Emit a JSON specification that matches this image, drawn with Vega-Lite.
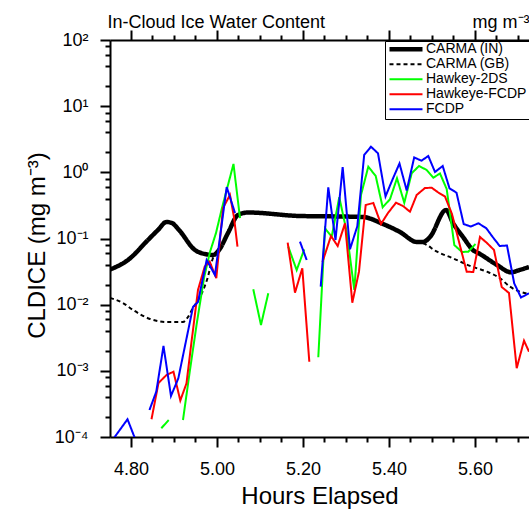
{
  "$schema": "https://vega.github.io/schema/vega-lite/v6.json",
  "width": 419,
  "height": 397,
  "autosize": {"type": "none"},
  "padding": {"left": 110, "top": 40, "right": 0, "bottom": 75},
  "background": "white",
  "config": {
    "view": {"stroke": null},
    "font": "Liberation Sans",
    "axis": {"grid": false, "labelFont": "Liberation Sans", "titleFont": "Liberation Sans", "labelColor": "black", "titleColor": "black", "tickColor": "black", "domainColor": "black", "titleFontWeight": "normal"}
  },
  "datasets": {
    "carma": [
      {"s": "CARMA (IN)", "g": 1, "t": 4.7512, "v": 0.034},
      {"s": "CARMA (IN)", "g": 1, "t": 4.793, "v": 0.0473},
      {"s": "CARMA (IN)", "g": 1, "t": 4.8395, "v": 0.095},
      {"s": "CARMA (IN)", "g": 1, "t": 4.8628, "v": 0.1346},
      {"s": "CARMA (IN)", "g": 1, "t": 4.8826, "v": 0.1778},
      {"s": "CARMA (IN)", "g": 1, "t": 4.8953, "v": 0.1714},
      {"s": "CARMA (IN)", "g": 1, "t": 4.9116, "v": 0.1346},
      {"s": "CARMA (IN)", "g": 1, "t": 4.9488, "v": 0.067},
      {"s": "CARMA (IN)", "g": 1, "t": 4.9721, "v": 0.0583},
      {"s": "CARMA (IN)", "g": 1, "t": 4.9907, "v": 0.0563},
      {"s": "CARMA (IN)", "g": 1, "t": 5.0047, "v": 0.067},
      {"s": "CARMA (IN)", "g": 1, "t": 5.0256, "v": 0.1211},
      {"s": "CARMA (IN)", "g": 1, "t": 5.0488, "v": 0.2265},
      {"s": "CARMA (IN)", "g": 1, "t": 5.0721, "v": 0.2472},
      {"s": "CARMA (IN)", "g": 1, "t": 5.193, "v": 0.2188},
      {"s": "CARMA (IN)", "g": 1, "t": 5.286, "v": 0.2152},
      {"s": "CARMA (IN)", "g": 1, "t": 5.3395, "v": 0.2113},
      {"s": "CARMA (IN)", "g": 1, "t": 5.386, "v": 0.1656},
      {"s": "CARMA (IN)", "g": 1, "t": 5.4256, "v": 0.1254},
      {"s": "CARMA (IN)", "g": 1, "t": 5.4651, "v": 0.0885},
      {"s": "CARMA (IN)", "g": 1, "t": 5.4791, "v": 0.0885},
      {"s": "CARMA (IN)", "g": 1, "t": 5.4953, "v": 0.1054},
      {"s": "CARMA (IN)", "g": 1, "t": 5.5326, "v": 0.2698},
      {"s": "CARMA (IN)", "g": 1, "t": 5.5488, "v": 0.1714},
      {"s": "CARMA (IN)", "g": 1, "t": 5.5721, "v": 0.1054},
      {"s": "CARMA (IN)", "g": 1, "t": 5.5953, "v": 0.067},
      {"s": "CARMA (IN)", "g": 1, "t": 5.6116, "v": 0.0583},
      {"s": "CARMA (IN)", "g": 1, "t": 5.6512, "v": 0.0398},
      {"s": "CARMA (IN)", "g": 1, "t": 5.6837, "v": 0.0309},
      {"s": "CARMA (IN)", "g": 1, "t": 5.7047, "v": 0.0336},
      {"s": "CARMA (IN)", "g": 1, "t": 5.7256, "v": 0.0371},
      {"s": "CARMA (GB)", "g": 2, "t": 4.7512, "v": 0.01262},
      {"s": "CARMA (GB)", "g": 2, "t": 4.7814, "v": 0.01059},
      {"s": "CARMA (GB)", "g": 2, "t": 4.8047, "v": 0.00832},
      {"s": "CARMA (GB)", "g": 2, "t": 4.8442, "v": 0.00608},
      {"s": "CARMA (GB)", "g": 2, "t": 4.8837, "v": 0.00547},
      {"s": "CARMA (GB)", "g": 2, "t": 4.9209, "v": 0.00547},
      {"s": "CARMA (GB)", "g": 2, "t": 4.9326, "v": 0.00652},
      {"s": "CARMA (GB)", "g": 2, "t": 4.9442, "v": 0.00891},
      {"s": "CARMA (GB)", "g": 2, "t": 4.9605, "v": 0.01306},
      {"s": "CARMA (GB)", "g": 2, "t": 4.9767, "v": 0.0236},
      {"s": "CARMA (GB)", "g": 2, "t": 4.9907, "v": 0.0507},
      {"s": "CARMA (GB)", "g": 2, "t": 5.0047, "v": 0.067},
      {"s": "CARMA (GB)", "g": 2, "t": 5.0256, "v": 0.1211},
      {"s": "CARMA (GB)", "g": 2, "t": 5.0488, "v": 0.2265},
      {"s": "CARMA (GB)", "g": 2, "t": 5.0721, "v": 0.2472},
      {"s": "CARMA (GB)", "g": 2, "t": 5.193, "v": 0.2188},
      {"s": "CARMA (GB)", "g": 2, "t": 5.286, "v": 0.2152},
      {"s": "CARMA (GB)", "g": 2, "t": 5.3395, "v": 0.2113},
      {"s": "CARMA (GB)", "g": 2, "t": 5.386, "v": 0.1656},
      {"s": "CARMA (GB)", "g": 2, "t": 5.4256, "v": 0.1254},
      {"s": "CARMA (GB)", "g": 2, "t": 5.4651, "v": 0.0885},
      {"s": "CARMA (GB)", "g": 2, "t": 5.4791, "v": 0.085},
      {"s": "CARMA (GB)", "g": 2, "t": 5.5116, "v": 0.0632},
      {"s": "CARMA (GB)", "g": 2, "t": 5.5488, "v": 0.0502},
      {"s": "CARMA (GB)", "g": 2, "t": 5.5884, "v": 0.0385},
      {"s": "CARMA (GB)", "g": 2, "t": 5.6279, "v": 0.0315},
      {"s": "CARMA (GB)", "g": 2, "t": 5.6581, "v": 0.0251},
      {"s": "CARMA (GB)", "g": 2, "t": 5.6814, "v": 0.0187},
      {"s": "CARMA (GB)", "g": 2, "t": 5.7047, "v": 0.0157},
      {"s": "CARMA (GB)", "g": 2, "t": 5.7256, "v": 0.0145}
    ],
    "obs": [
      {"s": "Hawkey-2DS", "g": 11, "t": 4.8705, "v": 0.0001355},
      {"s": "Hawkey-2DS", "g": 11, "t": 4.8877, "v": 0.0001807},
      {"s": "Hawkey-2DS", "g": 12, "t": 4.9209, "v": 0.0001807},
      {"s": "Hawkey-2DS", "g": 12, "t": 4.9372, "v": 0.00103},
      {"s": "Hawkey-2DS", "g": 12, "t": 4.9535, "v": 0.00547},
      {"s": "Hawkey-2DS", "g": 12, "t": 4.9698, "v": 0.0253},
      {"s": "Hawkey-2DS", "g": 12, "t": 4.9837, "v": 0.0625},
      {"s": "Hawkey-2DS", "g": 12, "t": 4.9977, "v": 0.1211},
      {"s": "Hawkey-2DS", "g": 12, "t": 5.0116, "v": 0.289},
      {"s": "Hawkey-2DS", "g": 12, "t": 5.0256, "v": 0.644},
      {"s": "Hawkey-2DS", "g": 12, "t": 5.0384, "v": 1.337},
      {"s": "Hawkey-2DS", "g": 12, "t": 5.0535, "v": 0.204},
      {"s": "Hawkey-2DS", "g": 13, "t": 5.0844, "v": 0.01707},
      {"s": "Hawkey-2DS", "g": 13, "t": 5.1023, "v": 0.00493},
      {"s": "Hawkey-2DS", "g": 13, "t": 5.1193, "v": 0.01486},
      {"s": "Hawkey-2DS", "g": 14, "t": 5.1658, "v": 0.0752},
      {"s": "Hawkey-2DS", "g": 14, "t": 5.1853, "v": 0.0334},
      {"s": "Hawkey-2DS", "g": 14, "t": 5.203, "v": 0.0687},
      {"s": "Hawkey-2DS", "g": 15, "t": 5.2356, "v": 0.001603},
      {"s": "Hawkey-2DS", "g": 15, "t": 5.2512, "v": 0.1426},
      {"s": "Hawkey-2DS", "g": 15, "t": 5.2667, "v": 0.1064},
      {"s": "Hawkey-2DS", "g": 15, "t": 5.2844, "v": 0.4198},
      {"s": "Hawkey-2DS", "g": 15, "t": 5.3016, "v": 0.1268},
      {"s": "Hawkey-2DS", "g": 15, "t": 5.3193, "v": 0.01667},
      {"s": "Hawkey-2DS", "g": 15, "t": 5.3349, "v": 0.455},
      {"s": "Hawkey-2DS", "g": 15, "t": 5.3519, "v": 1.217},
      {"s": "Hawkey-2DS", "g": 15, "t": 5.3691, "v": 0.881},
      {"s": "Hawkey-2DS", "g": 15, "t": 5.3853, "v": 0.2963},
      {"s": "Hawkey-2DS", "g": 15, "t": 5.4023, "v": 0.3917},
      {"s": "Hawkey-2DS", "g": 15, "t": 5.4186, "v": 0.8128},
      {"s": "Hawkey-2DS", "g": 15, "t": 5.4356, "v": 0.3475},
      {"s": "Hawkey-2DS", "g": 15, "t": 5.4528, "v": 0.968},
      {"s": "Hawkey-2DS", "g": 15, "t": 5.4698, "v": 1.247},
      {"s": "Hawkey-2DS", "g": 15, "t": 5.4877, "v": 1.084},
      {"s": "Hawkey-2DS", "g": 15, "t": 5.503, "v": 0.83},
      {"s": "Hawkey-2DS", "g": 15, "t": 5.5186, "v": 0.96},
      {"s": "Hawkey-2DS", "g": 15, "t": 5.5342, "v": 0.56},
      {"s": "Hawkey-2DS", "g": 15, "t": 5.5519, "v": 0.0798},
      {"s": "Hawkey-2DS", "g": 15, "t": 5.5698, "v": 0.0625},
      {"s": "Hawkey-2DS", "g": 15, "t": 5.5844, "v": 0.0632},
      {"s": "Hawkey-2DS", "g": 15, "t": 5.6012, "v": 0.0826},
      {"s": "Hawkeye-FCDP", "g": 21, "t": 4.8477, "v": 0.0001854},
      {"s": "Hawkeye-FCDP", "g": 21, "t": 4.864, "v": 0.000655},
      {"s": "Hawkeye-FCDP", "g": 21, "t": 4.8826, "v": 0.000865},
      {"s": "Hawkeye-FCDP", "g": 21, "t": 4.8988, "v": 0.00097},
      {"s": "Hawkeye-FCDP", "g": 21, "t": 4.9147, "v": 0.000356},
      {"s": "Hawkeye-FCDP", "g": 21, "t": 4.9291, "v": 0.000648},
      {"s": "Hawkeye-FCDP", "g": 21, "t": 4.9407, "v": 0.00273},
      {"s": "Hawkeye-FCDP", "g": 21, "t": 4.9558, "v": 0.01667},
      {"s": "Hawkeye-FCDP", "g": 21, "t": 4.9714, "v": 0.0375},
      {"s": "Hawkeye-FCDP", "g": 21, "t": 4.983, "v": 0.0447},
      {"s": "Hawkeye-FCDP", "g": 21, "t": 4.9984, "v": 0.0251},
      {"s": "Hawkeye-FCDP", "g": 21, "t": 5.014, "v": 0.289},
      {"s": "Hawkeye-FCDP", "g": 21, "t": 5.0302, "v": 0.455},
      {"s": "Hawkeye-FCDP", "g": 21, "t": 5.0395, "v": 0.2113},
      {"s": "Hawkeye-FCDP", "g": 21, "t": 5.0477, "v": 0.0752},
      {"s": "Hawkeye-FCDP", "g": 22, "t": 5.1644, "v": 0.0865},
      {"s": "Hawkeye-FCDP", "g": 22, "t": 5.1814, "v": 0.01517},
      {"s": "Hawkeye-FCDP", "g": 22, "t": 5.1984, "v": 0.0355},
      {"s": "Hawkeye-FCDP", "g": 22, "t": 5.2147, "v": 0.001374},
      {"s": "Hawkeye-FCDP", "g": 23, "t": 5.2453, "v": 0.0442},
      {"s": "Hawkeye-FCDP", "g": 23, "t": 5.2651, "v": 0.1091},
      {"s": "Hawkeye-FCDP", "g": 23, "t": 5.2807, "v": 0.0771},
      {"s": "Hawkeye-FCDP", "g": 23, "t": 5.2977, "v": 0.1698},
      {"s": "Hawkeye-FCDP", "g": 23, "t": 5.3147, "v": 0.01072},
      {"s": "Hawkeye-FCDP", "g": 23, "t": 5.3302, "v": 0.0315},
      {"s": "Hawkeye-FCDP", "g": 23, "t": 5.3458, "v": 0.3208},
      {"s": "Hawkeye-FCDP", "g": 23, "t": 5.3635, "v": 0.3443},
      {"s": "Hawkeye-FCDP", "g": 23, "t": 5.3814, "v": 0.1656},
      {"s": "Hawkeye-FCDP", "g": 23, "t": 5.3977, "v": 0.243},
      {"s": "Hawkeye-FCDP", "g": 23, "t": 5.4163, "v": 0.3475},
      {"s": "Hawkeye-FCDP", "g": 23, "t": 5.4326, "v": 0.3097},
      {"s": "Hawkeye-FCDP", "g": 23, "t": 5.4488, "v": 0.2541},
      {"s": "Hawkeye-FCDP", "g": 23, "t": 5.4644, "v": 0.455},
      {"s": "Hawkeye-FCDP", "g": 23, "t": 5.4837, "v": 0.5794},
      {"s": "Hawkeye-FCDP", "g": 23, "t": 5.4993, "v": 0.585},
      {"s": "Hawkeye-FCDP", "g": 23, "t": 5.5147, "v": 0.4955},
      {"s": "Hawkeye-FCDP", "g": 23, "t": 5.5302, "v": 0.4315},
      {"s": "Hawkeye-FCDP", "g": 23, "t": 5.5465, "v": 0.2345},
      {"s": "Hawkeye-FCDP", "g": 23, "t": 5.5635, "v": 0.0855},
      {"s": "Hawkeye-FCDP", "g": 23, "t": 5.5807, "v": 0.0315},
      {"s": "Hawkeye-FCDP", "g": 23, "t": 5.596, "v": 0.0312},
      {"s": "Hawkeye-FCDP", "g": 23, "t": 5.6116, "v": 0.1054},
      {"s": "Hawkeye-FCDP", "g": 23, "t": 5.6279, "v": 0.0855},
      {"s": "Hawkeye-FCDP", "g": 23, "t": 5.6442, "v": 0.067},
      {"s": "Hawkeye-FCDP", "g": 23, "t": 5.6621, "v": 0.0185},
      {"s": "Hawkeye-FCDP", "g": 23, "t": 5.6791, "v": 0.015},
      {"s": "Hawkeye-FCDP", "g": 23, "t": 5.697, "v": 0.001094},
      {"s": "Hawkeye-FCDP", "g": 23, "t": 5.714, "v": 0.002857},
      {"s": "Hawkeye-FCDP", "g": 23, "t": 5.7256, "v": 0.001946},
      {"s": "FCDP", "g": 31, "t": 4.7581, "v": 0.000092},
      {"s": "FCDP", "g": 31, "t": 4.7919, "v": 0.0001854},
      {"s": "FCDP", "g": 31, "t": 4.8093, "v": 0.000095},
      {"s": "FCDP", "g": 32, "t": 4.843, "v": 0.000256},
      {"s": "FCDP", "g": 32, "t": 4.8588, "v": 0.000484},
      {"s": "FCDP", "g": 32, "t": 4.8756, "v": 0.002377},
      {"s": "FCDP", "g": 32, "t": 4.893, "v": 0.000417},
      {"s": "FCDP", "g": 32, "t": 4.91, "v": 0.000766},
      {"s": "FCDP", "g": 32, "t": 4.9442, "v": 0.00923},
      {"s": "FCDP", "g": 32, "t": 4.9558, "v": 0.01099},
      {"s": "FCDP", "g": 32, "t": 4.976, "v": 0.0473},
      {"s": "FCDP", "g": 32, "t": 4.9953, "v": 0.0281},
      {"s": "FCDP", "g": 32, "t": 5.0226, "v": 0.6},
      {"s": "FCDP", "g": 32, "t": 5.0419, "v": 0.243},
      {"s": "FCDP", "g": 33, "t": 5.193, "v": 0.0895},
      {"s": "FCDP", "g": 33, "t": 5.2086, "v": 0.0473},
      {"s": "FCDP", "g": 34, "t": 5.2412, "v": 0.0187},
      {"s": "FCDP", "g": 34, "t": 5.2588, "v": 0.594},
      {"s": "FCDP", "g": 34, "t": 5.2756, "v": 0.0949},
      {"s": "FCDP", "g": 34, "t": 5.2923, "v": 1.205},
      {"s": "FCDP", "g": 34, "t": 5.3093, "v": 0.0687},
      {"s": "FCDP", "g": 34, "t": 5.3263, "v": 0.1528},
      {"s": "FCDP", "g": 34, "t": 5.3423, "v": 1.828},
      {"s": "FCDP", "g": 34, "t": 5.3581, "v": 2.44},
      {"s": "FCDP", "g": 34, "t": 5.3744, "v": 1.94},
      {"s": "FCDP", "g": 34, "t": 5.3919, "v": 0.4315},
      {"s": "FCDP", "g": 34, "t": 5.4077, "v": 0.7656},
      {"s": "FCDP", "g": 34, "t": 5.4244, "v": 1.361},
      {"s": "FCDP", "g": 34, "t": 5.4412, "v": 0.532},
      {"s": "FCDP", "g": 34, "t": 5.4586, "v": 1.675},
      {"s": "FCDP", "g": 34, "t": 5.4756, "v": 1.5},
      {"s": "FCDP", "g": 34, "t": 5.4914, "v": 1.766},
      {"s": "FCDP", "g": 34, "t": 5.507, "v": 1.012},
      {"s": "FCDP", "g": 34, "t": 5.5249, "v": 1.247},
      {"s": "FCDP", "g": 34, "t": 5.5407, "v": 0.574},
      {"s": "FCDP", "g": 34, "t": 5.557, "v": 0.492},
      {"s": "FCDP", "g": 34, "t": 5.5737, "v": 0.1656},
      {"s": "FCDP", "g": 34, "t": 5.59, "v": 0.1517},
      {"s": "FCDP", "g": 34, "t": 5.6081, "v": 0.1698},
      {"s": "FCDP", "g": 34, "t": 5.6263, "v": 0.1426},
      {"s": "FCDP", "g": 34, "t": 5.6412, "v": 0.1054},
      {"s": "FCDP", "g": 34, "t": 5.6574, "v": 0.0771},
      {"s": "FCDP", "g": 34, "t": 5.6744, "v": 0.0784},
      {"s": "FCDP", "g": 34, "t": 5.6912, "v": 0.021},
      {"s": "FCDP", "g": 34, "t": 5.707, "v": 0.01283},
      {"s": "FCDP", "g": 34, "t": 5.7256, "v": 0.01486}
    ]
  },
  "resolve": {"axis": {"x": "independent", "y": "independent"}},
  "layer": [
    {
      "data": {"name": "carma"},
      "mark": {"type": "line", "interpolate": "monotone", "clip": true},
      "encoding": {
        "x": {
          "field": "t", "type": "quantitative",
          "scale": {"domain": [4.7512, 5.7256], "nice": false, "zero": false},
          "axis": {
            "orient": "bottom",
            "values": [4.75, 4.8, 4.85, 4.9, 4.95, 5, 5.05, 5.1, 5.15, 5.2, 5.25, 5.3, 5.35, 5.4, 5.45, 5.5, 5.55, 5.6, 5.65, 5.7],
            "tickSize": {"condition": {"test": "abs(datum.value*5 - round(datum.value*5)) < 0.001", "value": 10}, "value": 5},
            "tickWidth": 2,
            "domainWidth": 2,
            "labelExpr": "abs(datum.value*5 - round(datum.value*5)) < 0.001 ? format(datum.value, '.2f') : ''",
            "labelFontSize": 18,
            "labelPadding": 13,
            "labelFlush": false,
            "labelOverlap": false,
            "labelBound": false,
            "title": "Hours Elapsed",
            "titleFontSize": 24,
            "titleX": 209.5,
            "titleY": 66,
            "titleAlign": "center",
            "titleBaseline": "alphabetic"
          }
        },
        "y": {
          "field": "v", "type": "quantitative",
          "scale": {"type": "log", "domain": [0.0001, 100], "nice": false},
          "axis": {
            "orient": "left",
            "values": [0.0001, 0.0002, 0.0004, 0.0006, 0.0008, 0.001, 0.002, 0.004, 0.006, 0.008, 0.01, 0.02, 0.04, 0.06, 0.08, 0.1, 0.2, 0.4, 0.6, 0.8, 1, 2, 4, 6, 8, 10, 20, 40, 60, 80, 100],
            "tickSize": {"condition": {"test": "abs(log(datum.value)/LN10 - round(log(datum.value)/LN10)) < 0.01", "value": 10}, "value": 5},
            "tickWidth": 2,
            "domainWidth": 2,
            "labelExpr": "abs(log(datum.value)/LN10 - round(log(datum.value)/LN10)) < 0.01 ? ['10⁻⁴','10⁻³','10⁻²','10⁻¹','10⁰','10¹','10²'][round(log(datum.value)/LN10) + 4] : ''",
            "labelFontSize": 18,
            "labelPadding": 12,
            "labelBaseline": "middle",
            "labelFlush": false,
            "labelOverlap": false,
            "labelBound": false,
            "title": "CLDICE (mg m⁻³)",
            "titleFontSize": 24,
            "titleX": -66,
            "titleY": 205,
            "titleAngle": -90,
            "titleAlign": "center",
            "titleBaseline": "alphabetic"
          }
        },
        "color": {
          "field": "s", "type": "nominal",
          "scale": {"domain": ["CARMA (IN)", "CARMA (GB)", "Hawkey-2DS", "Hawkeye-FCDP", "FCDP"], "range": ["#000000", "#000000", "#00ff00", "#ff0000", "#0000ff"]},
          "legend": {
            "title": null,
            "orient": "none",
            "legendX": 275,
            "legendY": 1,
            "symbolType": "stroke",
            "symbolSize": 1089,
            "labelFontSize": 14,
            "labelFont": "Liberation Sans",
            "labelColor": "black",
            "labelOffset": 1,
            "padding": 2,
            "rowPadding": 0,
            "clipHeight": 12.5,
            "strokeColor": "black",
            "fillColor": "white"
          }
        },
        "strokeDash": {
          "field": "s", "type": "nominal",
          "scale": {"domain": ["CARMA (IN)", "CARMA (GB)", "Hawkey-2DS", "Hawkeye-FCDP", "FCDP"], "range": [[1, 0], [4, 3], [1, 0], [1, 0], [1, 0]]},
          "legend": {"title": null}
        },
        "strokeWidth": {
          "field": "s", "type": "nominal",
          "scale": {"type": "ordinal", "domain": ["CARMA (IN)", "CARMA (GB)", "Hawkey-2DS", "Hawkeye-FCDP", "FCDP"], "range": [4.5, 2, 2, 2, 2]},
          "legend": {"title": null}
        },
        "detail": {"field": "g", "type": "nominal"}
      }
    },
    {
      "data": {"name": "obs"},
      "mark": {"type": "line", "clip": true},
      "encoding": {
        "x": {
          "field": "t", "type": "quantitative",
          "axis": {
            "orient": "top",
            "values": [4.75, 4.8, 4.85, 4.9, 4.95, 5, 5.05, 5.1, 5.15, 5.2, 5.25, 5.3, 5.35, 5.4, 5.45, 5.5, 5.55, 5.6, 5.65, 5.7],
            "tickSize": {"condition": {"test": "abs(datum.value*5 - round(datum.value*5)) < 0.001", "value": 10}, "value": 5},
            "tickWidth": 2,
            "domainWidth": 2,
            "labels": false,
            "title": "In-Cloud Ice Water Content",
            "titleFontSize": 18,
            "titleX": -3,
            "titleY": -13,
            "titleAlign": "left",
            "titleBaseline": "alphabetic"
          }
        },
        "y": {
          "field": "v", "type": "quantitative",
          "axis": {
            "orient": "right",
            "domain": false,
            "ticks": false,
            "labels": false,
            "title": "mg m⁻³",
            "titleFontSize": 18,
            "titleAngle": 0,
            "titleX": -57,
            "titleY": -13,
            "titleAlign": "left",
            "titleBaseline": "alphabetic"
          }
        },
        "color": {"field": "s", "type": "nominal"},
        "strokeDash": {
          "field": "s", "type": "nominal",
          "scale": {"domain": ["CARMA (IN)", "CARMA (GB)", "Hawkey-2DS", "Hawkeye-FCDP", "FCDP"], "range": [[1, 0], [4, 3], [1, 0], [1, 0], [1, 0]]}
        },
        "strokeWidth": {
          "field": "s", "type": "nominal",
          "scale": {"type": "ordinal", "domain": ["CARMA (IN)", "CARMA (GB)", "Hawkey-2DS", "Hawkeye-FCDP", "FCDP"], "range": [4.5, 2, 2, 2, 2]}
        },
        "detail": {"field": "g", "type": "nominal"}
      }
    }
  ]
}
